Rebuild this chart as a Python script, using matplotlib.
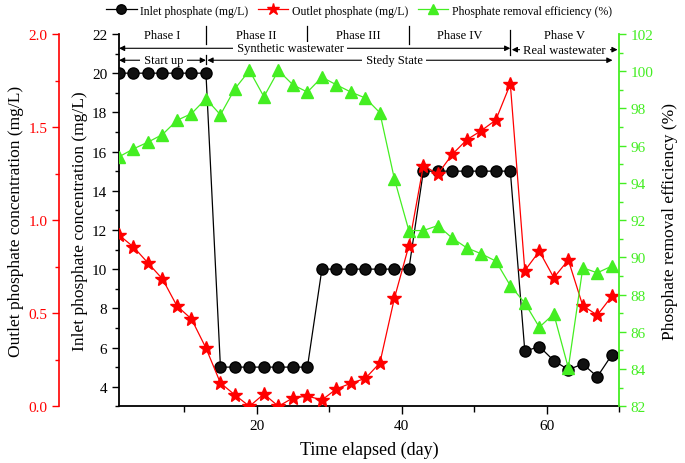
import matplotlib
matplotlib.use("Agg")
import matplotlib.pyplot as plt
from matplotlib.ticker import MultipleLocator

plt.rcParams['font.family'] = ['Liberation Serif', 'DejaVu Serif']

# sampling days (every second day)
days = [1, 3, 5, 7, 9, 11, 13, 15, 17, 19, 21, 23, 25, 27, 29, 31, 33, 35,
        37, 39, 41, 43, 45, 47, 49, 51, 53, 55, 57, 59, 61, 63, 65, 67, 69]

# inlet phosphate (mg/L), left axis
inlet = [20, 20, 20, 20, 20, 20, 20,
         5, 5, 5, 5, 5, 5, 5,
         10, 10, 10, 10, 10, 10, 10,
         15, 15, 15, 15, 15, 15, 15,
         5.81, 6.05, 5.33, 4.87, 5.16, 4.51, 5.62]

# outlet phosphate (mg/L), outer left axis
outlet = [0.92, 0.856, 0.77, 0.684, 0.539, 0.469, 0.313,
          0.125, 0.061, 0.0, 0.066, 0.0, 0.045, 0.055,
          0.034, 0.093, 0.124, 0.15, 0.233, 0.58, 0.863,
          1.293, 1.248, 1.354, 1.432, 1.481, 1.538, 1.731,
          0.729, 0.833, 0.691, 0.786, 0.54, 0.49, 0.591]

# phosphate removal efficiency (%), right axis
eff = [95.4, 95.83, 96.19, 96.6, 97.36, 97.72, 98.52,
       97.66, 99.06, 100.04, 98.63, 100.04, 99.27, 98.88,
       99.68, 99.27, 98.88, 98.56, 97.77, 94.22, 91.44,
       91.44, 91.71, 91.03, 90.51, 90.19, 89.8, 88.48,
       87.55, 86.25, 86.96, 84.06, 89.44, 89.17, 89.53]

phase_names = ["Phase I", "Phase II", "Phase III", "Phase IV", "Phase V"]
phase_bounds = [1, 13, 27, 41, 55, 70]

RED = '#ff0000'
GREEN = '#44ee22'

fig = plt.figure(figsize=(6.85, 4.64), dpi=100)
ax = fig.add_axes([0.1737, 0.1222, 0.73, 0.8024])
ax2 = ax.twinx()
ax3 = ax.twinx()

l1, = ax.plot(days, inlet, color='black', lw=0.9, marker='o', ms=8,
              mfc='#111111', mec='black', label='Inlet phosphate (mg/L)', zorder=3)
l2, = ax2.plot(days, outlet, color=RED, lw=0.9, marker='*', ms=10.5,
               mfc=RED, mec=RED, label='Outlet phosphate (mg/L)')
l3, = ax3.plot(days, eff, color=GREEN, lw=0.9, marker='^', ms=8,
               mfc=GREEN, mec=GREEN, label='Phosphate removal efficiency (%)')

# x axis
ax.set_xlim(1, 70)
ax.xaxis.set_major_locator(MultipleLocator(20))
ax.xaxis.set_minor_locator(MultipleLocator(10))
ax.tick_params(axis='x', which='major', length=6, width=1, labelsize=11)
ax.tick_params(axis='x', which='minor', length=4, width=1)
ax.set_xlabel("Time elapsed (day)", fontsize=13, labelpad=6)

# inlet axis (left)
ax.set_ylim(3, 22)
ax.set_yticks(range(4, 23, 2))
ax.yaxis.set_minor_locator(MultipleLocator(1))
ax.tick_params(axis='y', which='major', length=5, width=1, labelsize=11)
ax.tick_params(axis='y', which='minor', length=3, width=1)
ax.set_ylabel("Inlet phosphate concentration (mg/L)", fontsize=12.5, labelpad=3)
for s in ['top', 'right']:
    ax.spines[s].set_visible(False)
ax.spines['left'].set_linewidth(1.3)
ax.spines['bottom'].set_linewidth(1.3)

# outlet axis (outer left)
ax2.set_ylim(0, 2.0)
ax2.yaxis.set_label_position('left')
ax2.yaxis.set_ticks_position('left')
ax2.spines['left'].set_position(('axes', -0.12))
ax2.spines['left'].set_visible(True)
ax2.spines['left'].set_color(RED)
ax2.spines['left'].set_linewidth(1.2)
for s in ['top', 'right', 'bottom']:
    ax2.spines[s].set_visible(False)
ax2.yaxis.set_major_locator(MultipleLocator(0.5))
ax2.yaxis.set_minor_locator(MultipleLocator(0.25))
ax2.yaxis.set_major_formatter(plt.FormatStrFormatter('%.1f'))
ax2.tick_params(axis='y', which='both', colors=RED, labelcolor=RED, labelsize=11, width=1)
ax2.tick_params(axis='y', which='major', length=5)
ax2.tick_params(axis='y', which='minor', length=3)
ax2.set_ylabel("Outlet phosphate concentration (mg/L)", fontsize=12.5, labelpad=3)

# efficiency axis (right)
ax3.set_ylim(82, 102)
ax3.set_yticks(range(82, 103, 2))
ax3.yaxis.set_minor_locator(MultipleLocator(1))
for s in ['top', 'left', 'bottom']:
    ax3.spines[s].set_visible(False)
ax3.spines['right'].set_color(GREEN)
ax3.spines['right'].set_linewidth(1.3)
ax3.tick_params(axis='y', which='both', colors=GREEN, labelcolor=GREEN, labelsize=11, width=1)
ax3.tick_params(axis='y', which='major', length=5)
ax3.tick_params(axis='y', which='minor', length=3)
ax3.set_ylabel("Phosphate removal efficiency (%)", fontsize=12.5, labelpad=6)

# phase annotations (drawn in inlet-axis coordinates)
for i, name in enumerate(phase_names):
    xc = (phase_bounds[i] + phase_bounds[i + 1]) / 2
    ax3.text(xc, 21.95, name, transform=ax.transData, ha='center', va='center',
             fontsize=9, clip_on=False, zorder=6)
for b in phase_bounds[1:4]:
    ax3.plot([b, b], [22.43, 21.5], color='black', lw=0.9, transform=ax.transData, clip_on=False)
ax3.plot([55, 55], [22.2, 20.92], color='black', lw=0.9, transform=ax.transData, clip_on=False)
ax3.plot([13, 13], [20.92, 20.49], color='black', lw=0.9, transform=ax.transData, clip_on=False)

arrow = dict(arrowstyle='<|-|>', color='black', lw=0.8, mutation_scale=8,
             shrinkA=0, shrinkB=0)
box = dict(boxstyle='square,pad=0.05', fc='white', ec='none')

def span(x0, x1, y, label, xt):
    ax3.annotate('', xy=(x0, y), xytext=(x1, y), xycoords=ax.transData,
                 textcoords=ax.transData, arrowprops=arrow, annotation_clip=False)
    ax3.text(xt, y, ' ' + label + ' ', transform=ax.transData, ha='center', va='center',
             fontsize=9, bbox=box, clip_on=False, zorder=5)

span(1, 55, 21.27, "Synthetic wastewater", 24.6)
span(55.2, 69.8, 21.2, "Real wastewater", 62.5)
span(1, 13, 20.66, "Start up", 7.2)
span(13.2, 69.1, 20.66, "Stedy State", 39)

fig.legend([l1, l2, l3], [l1.get_label(), l2.get_label(), l3.get_label()],
           loc='center', bbox_to_anchor=(0.524, 0.975), ncol=3, frameon=False,
           fontsize=8.5, handlelength=2.6, handletextpad=0.3, columnspacing=0.8,
           borderaxespad=0, markerscale=0.85)

fig.savefig("out.png", dpi=100)
